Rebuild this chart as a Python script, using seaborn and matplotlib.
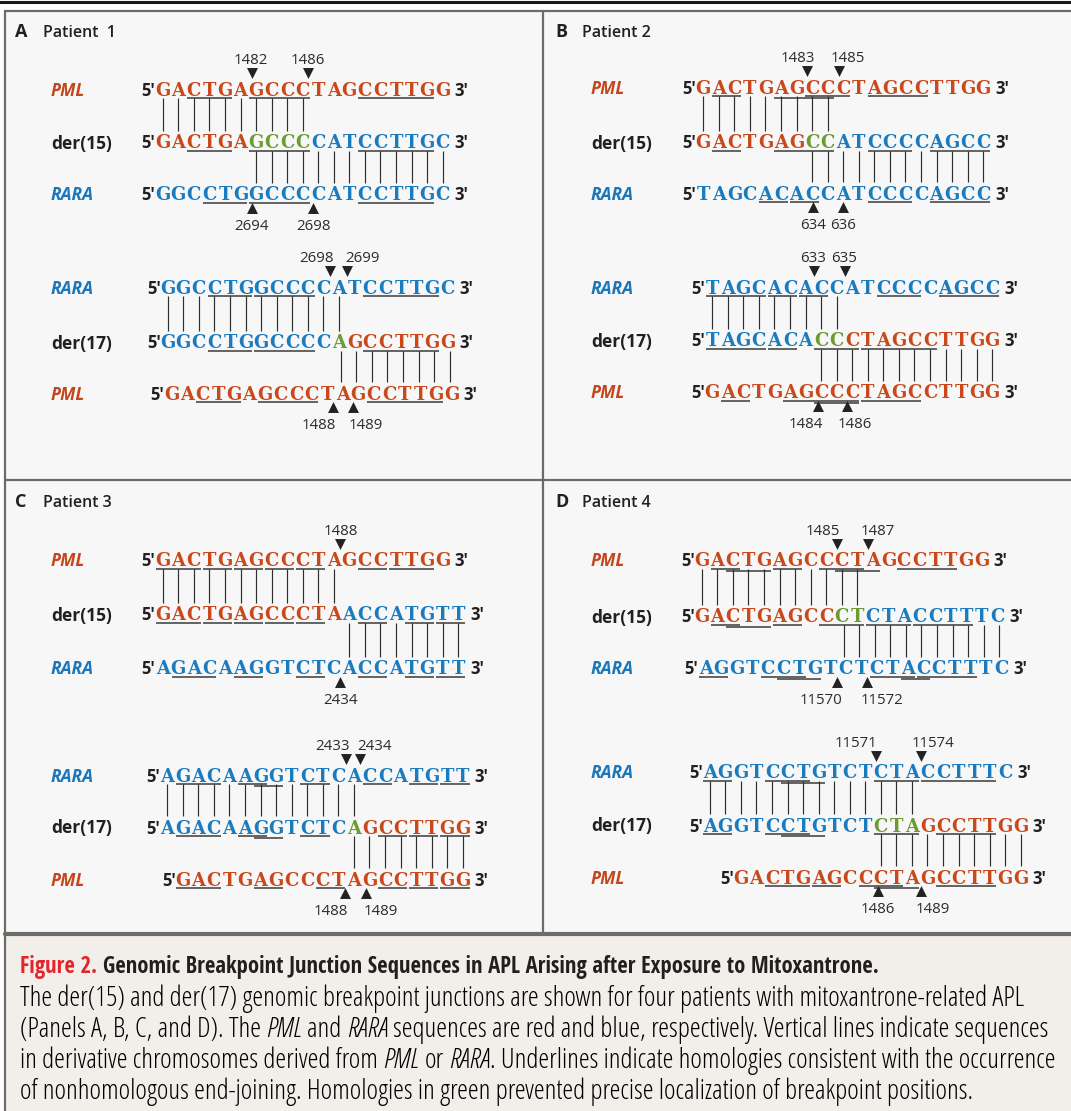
import matplotlib
matplotlib.use("Agg")
import matplotlib.pyplot as plt
from matplotlib import font_manager as fm
from matplotlib.font_manager import FontProperties
from matplotlib.patches import Rectangle
import pandas as pd
import seaborn as sns

# ---------------- data ----------------
panel_letters = ["A", "B", "C", "D"]
panel_titles = ["Patient  1", "Patient 2", "Patient 3", "Patient 4"]
rows_15 = ["PML", "der(15)", "RARA"]
rows_17 = ["RARA", "der(17)", "PML"]

# colour runs: r = PML, b = RARA, g = homology (green)
# underlines: (first, last[, level]) letter index, inclusive
# links: der-row letter ranges joined to the row above / below
# marks: (position label, arrow position, label position) in letter units
# Patient 1
p1_15_seq = ["GACTGAGCCCTAGCCTTGG", "GACTGAGCCCCATCCTTGC", "GGCCTGGCCCCATCCTTGC"]
p1_15_col = [[("r", 19)], [("r", 6), ("g", 4), ("b", 9)], [("b", 19)]]
p1_15_und = [[(2, 4), (6, 9), (13, 17)], [(2, 4), (6, 9), (13, 17)], [(3, 5), (6, 9), (13, 17)]]
p1_15_links = [(0, 9), (6, 18)]
p1_15_top = [("1482", 5.74, 5.66), ("1486", 9.36, 9.34)]
p1_15_bot = [("2694", 5.74, 5.72), ("2698", 9.66, 9.70)]

p1_17_seq = ["GGCCTGGCCCCATCCTTGC", "GGCCTGGCCCCAGCCTTGG", "GACTGAGCCCTAGCCTTGG"]
p1_17_col = [[("b", 19)], [("b", 11), ("g", 1), ("r", 7)], [("r", 19)]]
p1_17_und = [[(3, 5), (6, 9), (13, 17)], [(3, 5), (6, 9), (13, 17)], [(2, 4), (6, 9), (13, 17)]]
p1_17_links = [(0, 11), (11, 18)]
p1_17_top = [("2698", 10.43, 9.58), ("2699", 11.55, 12.52)]
p1_17_bot = [("1488", 10.65, 9.73), ("1489", 11.9, 12.75)]

# Patient 2
p2_15_seq = ["GACTGAGCCCTAGCCTTGG", "GACTGAGCCATCCCCAGCC", "TAGCACACCATCCCCAGCC"]
p2_15_col = [[("r", 19)], [("r", 7), ("g", 2), ("b", 10)], [("b", 19)]]
p2_15_und = [[(1, 2), (7, 9), (5, 8, 1), (11, 14)], [(1, 2), (5, 8), (11, 13), (15, 18)],
             [(4, 5), (6, 7), (11, 13), (15, 18)]]
p2_15_links = [(0, 8), (7, 18)]
p2_15_top = [("1483", 6.65, 6.06), ("1485", 8.73, 9.28)]
p2_15_bot = [("634", 7.08, 7.03), ("636", 9.0, 8.99)]

p2_17_seq = ["TAGCACACCATCCCCAGCC", "TAGCACACCCTAGCCTTGG", "GACTGAGCCCTAGCCTTGG"]
p2_17_col = [[("b", 19)], [("b", 7), ("g", 2), ("r", 10)], [("r", 19)]]
p2_17_und = [[(0, 3), (4, 5), (6, 7), (11, 13), (15, 18)], [(0, 3), (4, 5), (7, 9), (10, 14)],
             [(1, 2), (5, 9), (7, 9, 1), (10, 13)]]
p2_17_links = [(0, 8), (7, 18)]
p2_17_top = [("633", 6.54, 6.48), ("635", 8.54, 8.47)]
p2_17_bot = [("1484", 6.82, 6.03), ("1486", 8.68, 9.18)]

# Patient 3
p3_15_seq = ["GACTGAGCCCTAGCCTTGG", "GACTGAGCCCTAACCATGTT", "AGACAAGGTCTCACCATGTT"]
p3_15_col = [[("r", 19)], [("r", 12), ("b", 8)], [("b", 20)]]
p3_15_und = [[(0, 2), (3, 4), (5, 6), (7, 8), (9, 10), (13, 14), (15, 17)],
             [(0, 2), (3, 4), (5, 6), (7, 8), (9, 10), (13, 14), (16, 17), (18, 19)],
             [(1, 3), (5, 6), (9, 10), (13, 14), (16, 17), (18, 19)]]
p3_15_links = [(0, 11), (12, 19)]
p3_15_top = [("1488", 11.4, 11.45)]
p3_15_bot = [("2434", 11.4, 11.45)]

p3_17_seq = ["AGACAAGGTCTCACCATGTT", "AGACAAGGTCTCAGCCTTGG", "GACTGAGCCCTAGCCTTGG"]
p3_17_col = [[("b", 20)], [("b", 12), ("g", 1), ("r", 7)], [("r", 19)]]
p3_17_und = [[(1, 3), (5, 6), (6, 7, 1), (9, 10), (13, 14), (16, 17), (18, 19)],
             [(1, 3), (5, 6), (6, 7, 1), (9, 10), (14, 15), (16, 17), (18, 19)],
             [(0, 2), (5, 6), (9, 10), (13, 14), (15, 16), (17, 18)]]
p3_17_links = [(0, 12), (12, 19)]
p3_17_top = [("2433", 11.5, 10.63), ("2434", 12.4, 13.3)]
p3_17_bot = [("1488", 11.43, 10.53), ("1489", 12.76, 13.71)]

# Patient 4
p4_15_seq = ["GACTGAGCCCTAGCCTTGG", "GACTGAGCCCTCTACCTTTC", "AGGTCCTGTCTCTACCTTTC"]
p4_15_col = [[("r", 19)], [("r", 9), ("g", 2), ("b", 9)], [("b", 20)]]
p4_15_und = [[(1, 2), (2, 4, 1), (5, 6), (8, 10), (9, 11, 1), (13, 16)],
             [(1, 2), (2, 4, 1), (5, 6), (8, 10), (11, 13), (14, 17)],
             [(0, 1), (4, 6), (5, 7, 1), (11, 13), (14, 17), (13, 14, 1)]]
p4_15_links = [(0, 10), (9, 19)]
p4_15_top = [("1485", 8.68, 7.77), ("1487", 10.71, 11.3)]
p4_15_bot = [("11570", 8.68, 7.64), ("11572", 10.6, 11.62)]

p4_17_seq = ["AGGTCCTGTCTCTACCTTTC", "AGGTCCTGTCTCTAGCCTTGG", "GACTGAGCCCTAGCCTTGG"]
p4_17_col = [[("b", 20)], [("b", 11), ("g", 3), ("r", 7)], [("r", 19)]]
p4_17_und = [[(0, 1), (4, 6), (5, 7, 1), (11, 13), (14, 18)],
             [(0, 1), (4, 6), (5, 7, 1), (11, 13), (15, 18)],
             [(2, 4), (5, 6), (8, 10), (9, 11, 1), (13, 16)]]
p4_17_links = [(0, 13), (11, 20)]
p4_17_top = [("11571", 10.69, 9.37), ("11574", 13.59, 14.36)]
p4_17_bot = [("1486", 10.84, 10.82), ("1489", 13.59, 14.32)]

caption_title = ["Figure 2.", " Genomic Breakpoint Junction Sequences in APL Arising after Exposure to Mitoxantrone."]
caption_lines = [
    [("The der(15) and der(17) genomic breakpoint junctions are shown for four patients with mitoxantrone-related APL", "normal")],
    [("(Panels A, B, C, and D). The ", "normal"), ("PML", "italic"), (" and ", "normal"), ("RARA", "italic"),
     (" sequences are red and blue, respectively. Vertical lines indicate sequences", "normal")],
    [("in derivative chromosomes derived from ", "normal"), ("PML", "italic"), (" or ", "normal"), ("RARA", "italic"),
     (". Underlines indicate homologies consistent with the occurrence", "normal")],
    [("of nonhomologous end-joining. Homologies in green prevented precise localization of breakpoint positions.", "normal")],
]

# ---------------- style / layout ----------------
RED, BLUE, GREEN = "#c9481c", "#1a7bbf", "#6c9a33"
SEQ_C = {"r": RED, "b": BLUE, "g": GREEN}
LABEL_C = {"PML": "#c4461b", "RARA": "#1b77b9"}
INK = "#231f20"
GRAY = "#6b6b6b"
P = 15.55          # letter pitch (px)
SEQ_FONT = "DejaVu Serif"
UI_FONT = ["Open Sans", "DejaVu Sans"]


# condensed sans for the caption, picked file by file if installed
def wnum(w):
    return w if isinstance(w, (int, float)) else fm.weight_dict.get(str(w), 400)


cands = [f for f in fm.fontManager.ttflist
         if ("Condensed" in f.name or "Narrow" in f.name or f.stretch in ("condensed", "semi-condensed"))
         and not any(w in f.name for w in ("Mono", "Serif", "CJK"))]
base = []
for pref in ["Open Sans", "Noto Sans", "Roboto", "Liberation Sans", "DejaVu Sans"]:
    base = [f for f in cands if f.name.startswith(pref)]
    if base:
        break


def pick(bold, italic):
    pool = [f for f in base if (wnum(f.weight) >= 600) == bold and (f.style != "normal") == italic]
    if not pool:
        return None
    return min(pool, key=lambda f: abs(wnum(f.weight) - (700 if bold else 420))).fname


reg_file = pick(False, False)
CAP_FILES = {
    ("normal", "normal"): reg_file,
    ("normal", "italic"): pick(False, True) or reg_file,
    ("bold", "normal"): pick(True, False) or reg_file,
}


def cap_prop(weight, style, size):
    fname = CAP_FILES.get((weight, style))
    if fname:
        return FontProperties(fname=fname, size=size)
    return FontProperties(family=UI_FONT, weight=weight, style=style, size=size)


# block: data + x origin, row y centres, row shifts (in letters), label x
blocks = [
    (p1_15_seq, p1_15_col, p1_15_und, p1_15_links, p1_15_top, p1_15_bot, rows_15, 155, (89, 142, 194), (0, 0, 0), 51),
    (p1_17_seq, p1_17_col, p1_17_und, p1_17_links, p1_17_top, p1_17_bot, rows_17, 160, (287, 342, 393), (0, 0, 0.25), 51),
    (p2_15_seq, p2_15_col, p2_15_und, p2_15_links, p2_15_top, p2_15_bot, rows_15, 695.5, (87, 142, 193), (0, 0, 0), 591),
    (p2_17_seq, p2_17_col, p2_17_und, p2_17_links, p2_17_top, p2_17_bot, rows_17, 704.5, (287, 340, 392), (0, 0, 0), 591),
    (p3_15_seq, p3_15_col, p3_15_und, p3_15_links, p3_15_top, p3_15_bot, rows_15, 155, (560, 614, 668), (0, 0, 0), 51),
    (p3_17_seq, p3_17_col, p3_17_und, p3_17_links, p3_17_top, p3_17_bot, rows_17, 159.5, (775, 827, 879), (0, 0, 1), 51),
    (p4_15_seq, p4_15_col, p4_15_und, p4_15_links, p4_15_top, p4_15_bot, rows_15, 694, (560, 616, 668), (0, 0, 0.25), 591),
    (p4_17_seq, p4_17_col, p4_17_und, p4_17_links, p4_17_top, p4_17_bot, rows_17, 702, (772, 825, 877), (0, 0, 2), 591),
]
title_pos = [(15, 43, 37), (555, 582, 37), (15, 43, 507), (555, 582, 507)]

sns.set_theme(style="white")

fig = plt.figure(figsize=(10.71, 11.11), dpi=100, facecolor="white")
ax = fig.add_axes([0, 0, 1, 1])
ax.set_xlim(0, 1071)
ax.set_ylim(1111, 0)
ax.axis("off")
renderer = fig.canvas.get_renderer()

# backgrounds and frame
ax.add_patch(Rectangle((5, 10.5), 1066, 923.5, facecolor="#f7f7f7", edgecolor="none", zorder=0))
ax.add_patch(Rectangle((5, 934), 1066, 177, facecolor="#f2eee9", edgecolor="none", zorder=0))
ax.plot([0, 1071], [1.5, 1.5], color="#1a1a1a", lw=2.2)
ax.plot([5, 5], [10.5, 1111], color=GRAY, lw=1.6)
ax.plot([5, 1071], [10.5, 10.5], color=GRAY, lw=1.6)
ax.plot([543, 543], [10.5, 934], color=GRAY, lw=1.6)
ax.plot([5, 1071], [479.5, 479.5], color=GRAY, lw=1.6)
ax.plot([5, 1071], [934, 934], color=GRAY, lw=3)

for (lx, tx, ty), letter, title in zip(title_pos, panel_letters, panel_titles):
    ax.text(lx, ty, letter, family=UI_FONT, fontweight="bold", fontsize=13, color=INK, va="baseline")
    ax.text(tx, ty, title, family=UI_FONT, fontweight="semibold", fontsize=11.5, color=INK, va="baseline")


def frac(s):
    return s - round(s)


tri_down, tri_up = [], []
for seqs, cols, unds, links, top, bot, labels, x0, ys, shifts, lab_x in blocks:
    for r in range(3):
        y, s, lab = ys[r], shifts[r], labels[r]
        bl = y + 6.5
        if lab in LABEL_C:
            ax.text(lab_x, bl, lab, family=UI_FONT, fontweight="bold", fontstyle="italic",
                    fontsize=12.5, color=LABEL_C[lab], va="baseline")
        else:
            ax.text(lab_x, bl, lab, family=UI_FONT, fontweight="bold", fontsize=12.5, color=INK, va="baseline")
        colour = "".join(c * n for c, n in cols[r])
        for i, ch in enumerate(seqs[r]):
            ax.text(x0 + (s + i + 0.5) * P, bl, ch, family=SEQ_FONT, fontweight="bold", fontsize=13,
                    color=SEQ_C[colour[i]], ha="center", va="baseline")
        ax.text(x0 + s * P + 0.5, bl, "5'", family=UI_FONT, fontweight="bold", fontsize=12,
                color=INK, ha="right", va="baseline")
        ax.text(x0 + (s + len(seqs[r])) * P + 4, bl, "3'", family=UI_FONT, fontweight="bold", fontsize=12,
                color=INK, ha="left", va="baseline")
        for u in unds[r]:
            a, b = u[0], u[1]
            lev = u[2] if len(u) > 2 else 0
            yy = y + 8.5 + 2.5 * lev
            ax.plot([x0 + (s + a) * P + 1, x0 + (s + b + 1) * P - 1], [yy, yy],
                    color="#3a3a3a", lw=1.1, solid_capstyle="butt")
    for g, (a, b) in enumerate(links):
        f = (frac(shifts[g]) + frac(shifts[g + 1])) / 2
        xs = [x0 + (i + 0.5 + f) * P for i in range(a, b + 1)]
        ax.vlines(xs, ys[g] + 9, ys[g + 1] - 11, color="#2e2e2e", lw=0.85)
    for lab, pos, tpos in top:
        tri_down.append((x0 + (pos + 0.5) * P, ys[0] - 16))
        ax.text(x0 + (tpos + 0.5) * P, ys[0] - 25, lab, family=UI_FONT, fontsize=10.8, color="#2b2b2b",
                ha="center", va="baseline")
    for lab, pos, tpos in bot:
        tri_up.append((x0 + (pos + 0.5) * P, ys[2] + 14))
        ax.text(x0 + (tpos + 0.5) * P, ys[2] + 36, lab, family=UI_FONT, fontsize=10.8, color="#2b2b2b",
                ha="center", va="baseline")

down_df = pd.DataFrame(tri_down, columns=["x", "y"])
up_df = pd.DataFrame(tri_up, columns=["x", "y"])
sns.scatterplot(data=down_df, x="x", y="y", marker="v", s=62, color="#222222", linewidth=0, ax=ax, legend=False, zorder=5)
sns.scatterplot(data=up_df, x="x", y="y", marker="^", s=62, color="#222222", linewidth=0, ax=ax, legend=False, zorder=5)


# ---------------- caption ----------------
def width_of(txt, prop):
    t = ax.text(0, 0, txt, fontproperties=prop)
    w = t.get_window_extent(renderer=renderer).width
    t.remove()
    return w


def draw_runs(x, y, runs, size, weight="normal"):
    for txt, style, color in runs:
        prop = cap_prop(weight, style, size)
        sp = width_of("n n", prop) - width_of("nn", prop)
        core = txt.strip(" ")
        x += (len(txt) - len(txt.lstrip(" "))) * sp
        t = ax.text(x, y, core, color=color, va="baseline", fontproperties=prop)
        x += t.get_window_extent(renderer=renderer).width
        x += (len(txt) - len(txt.rstrip(" "))) * sp


title_size = 10 * 857 / width_of("".join(caption_title), cap_prop("bold", "normal", 10))
draw_runs(20, 973, [(caption_title[0], "normal", "#e3262b"), (caption_title[1], "normal", INK)],
          title_size, weight="bold")

body_size = 10 * 1052 / width_of("".join(t for t, _ in caption_lines[2]), cap_prop("normal", "normal", 10))
for k, line in enumerate(caption_lines):
    draw_runs(20, 1006 + 31 * k, [(t, st, "#000000") for t, st in line], body_size)

ax.set_xlim(0, 1071)
ax.set_ylim(1111, 0)
fig.savefig("out.png", dpi=100, facecolor="white")
